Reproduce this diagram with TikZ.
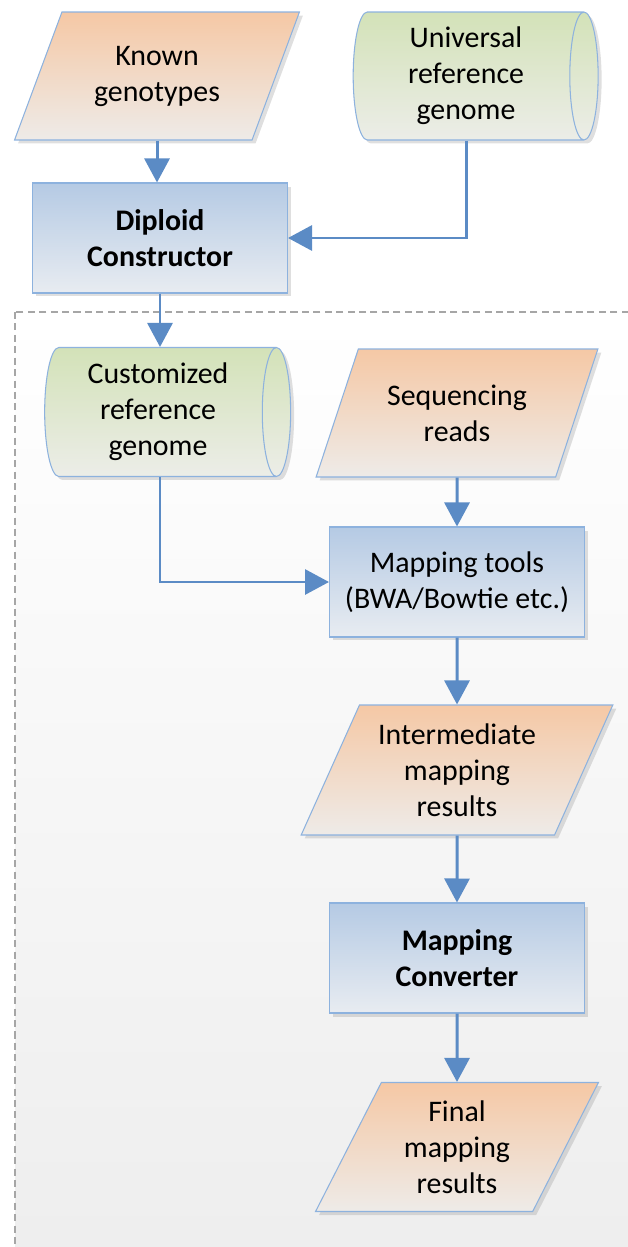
\documentclass[tikz,border=0pt]{standalone}
\usepackage{fontspec}
\setmainfont{Carlito}
\usepackage{xcolor}
\usetikzlibrary{arrows.meta,positioning,shapes.geometric,shadows}

\definecolor{peachtop}{HTML}{F5C8A5}
\definecolor{peachbot}{HTML}{EEEBE8}
\definecolor{greentop}{HTML}{D3E2B8}
\definecolor{greenbot}{HTML}{ECEDE8}
\definecolor{bluetop}{HTML}{B5CAE4}
\definecolor{bluebot}{HTML}{E8ECF1}
\definecolor{edgeblue}{HTML}{8DB2DE}
\definecolor{arrowblue}{HTML}{5B8BC5}

\begin{document}
\begin{tikzpicture}[
  x=0.02cm, y=-0.02cm,
  font=\fontsize{17}{20.5}\selectfont,
  iodata/.style={trapezium, trapezium left angle=63.8, trapezium right angle=116.2, trapezium stretches=true, draw=edgeblue, line width=0.6pt, top color=peachtop, bottom color=peachbot, align=center, inner sep=2pt, minimum height=2.56cm, drop shadow={opacity=0.25, shadow xshift=0.7mm, shadow yshift=-0.7mm}},
  store/.style={cylinder, aspect=0.27, draw=edgeblue, line width=0.6pt, align=center, inner sep=2pt, fill=greenbot,
    path picture={\shade[top color=greentop, bottom color=greenbot] (path picture bounding box.north west) rectangle (path picture bounding box.south east);},
    drop shadow={opacity=0.25, shadow xshift=0.7mm, shadow yshift=-0.7mm}},
  proc/.style={rectangle, draw=edgeblue, line width=0.6pt, top color=bluetop, bottom color=bluebot, align=center, minimum width=5.1cm, minimum height=2.2cm, drop shadow={opacity=0.25, shadow xshift=0.7mm, shadow yshift=-0.7mm}},
  region/.style={draw=black!35, line width=0.8pt, dash pattern=on 4pt off 2.5pt, top color=white, bottom color=black!7},
  flow/.style={-{Triangle[length=0.48cm,width=0.5cm]}, draw=arrowblue, line width=1.7pt}
]
\useasboundingbox (0,0) rectangle (627,1247);
% dashed frame round the mapping part
\draw[region] (15,312) rectangle (680,1290);

\node[iodata, minimum width=5.7cm] (known) at (157,76) {Known\\genotypes};
\node[store, minimum width=2.56cm, minimum height=4.9cm] (univ) at (466,76) {Universal\\reference\\genome};
\node[proc] (dip) at (160,238) {\textbf{Diploid}\\\textbf{Constructor}};

\node[store, minimum width=2.58cm, minimum height=4.92cm] (cust) at (158,412) {Customized\\reference\\genome};
\node[iodata, minimum width=5.64cm] (seq) at (457,413) {Sequencing\\reads};
\node[proc] (map) at (457,582) {Mapping tools\\(BWA/Bowtie etc.)};
\node[iodata, minimum width=6.24cm, minimum height=2.6cm] (inter) at (457,770) {Intermediate\\mapping\\results};
\node[proc] (conv) at (457,958) {\textbf{Mapping}\\\textbf{Converter}};
\node[iodata, minimum width=5.66cm, minimum height=2.58cm] (final) at (457,1147) {Final\\mapping\\results};

\draw[flow] (known.south) -- (known.south |- dip.north);
\draw[flow] (univ.south) |- (dip.east);
\draw[flow] (dip.south) -- (dip.south |- cust.north);
\draw[flow] (dip.south |- cust.south) |- (map.west);
\draw[flow] (seq) -- (map);
\draw[flow] (map) -- (inter);
\draw[flow] (inter) -- (conv);
\draw[flow] (conv) -- (final);
\end{tikzpicture}
\end{document}
